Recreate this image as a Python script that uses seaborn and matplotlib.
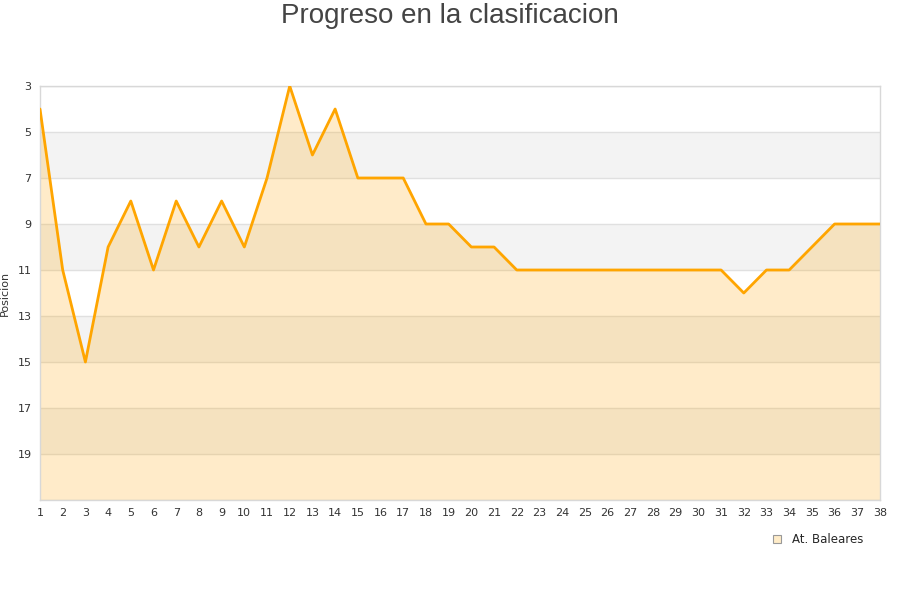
import matplotlib
matplotlib.use("Agg")
import matplotlib.pyplot as plt
import seaborn as sns
import pandas as pd
from matplotlib.patches import Patch

jornadas = list(range(1, 39))
posicion = [4, 11, 15, 10, 8, 11, 8, 10, 8, 10, 7, 3, 6, 4, 7, 7, 7, 9, 9, 10,
            10, 11, 11, 11, 11, 11, 11, 11, 11, 11, 11, 12, 11, 11, 10, 9, 9, 9]
equipo = "At. Baleares"
y_ticks = [3, 5, 7, 9, 11, 13, 15, 17, 19]

df = pd.DataFrame({"Jornada": jornadas, "Posicion": posicion})

sns.set_theme(style="white")
plt.rcParams['font.family'] = ['DejaVu Sans']

fig = plt.figure(figsize=(9, 6), dpi=100)
ax = fig.add_axes([40/900, 1-500/600, 840/900, 414/600])

# alternating bands
for lo in [5, 9, 13, 17]:
    ax.axhspan(lo, lo + 2, color="#f3f3f3", zorder=0, lw=0)

for t in y_ticks + [21]:
    ax.axhline(t, color="#e0e0e0", lw=1, zorder=0.5)

ax.fill_between(df["Jornada"], df["Posicion"], 21, color="#ffa500", alpha=0.21, lw=0, zorder=1)
sns.lineplot(data=df, x="Jornada", y="Posicion", ax=ax, color="#ffa500", lw=2.0, zorder=3)

ax.set_xlim(1, 38)
ax.set_ylim(21, 3)
ax.set_xticks(jornadas)
ax.set_yticks(y_ticks)
ax.tick_params(axis="both", labelsize=8, colors="#333333", length=0, pad=6)
ax.set_xlabel("")
ax.set_ylabel("Posicion", fontsize=8, color="#333333")
ax.yaxis.set_label_coords(-30/840, 0.5)
for s in ax.spines.values():
    s.set_color("#d8d8d8")
    s.set_linewidth(1)

fig.text(0.5, 1-16/600, "Progreso en la clasificacion", ha="center", va="center",
         fontsize=20, color="#444444", family=["Liberation Sans", "DejaVu Sans"])

leg = ax.legend(handles=[Patch(facecolor="#ffecc8", edgecolor="#999999", lw=0.8, label=equipo)],
                loc="upper right", bbox_to_anchor=(0.993, -0.055), frameon=False,
                fontsize=8.5, handlelength=0.7, handleheight=0.7, handletextpad=0.9)

fig.savefig("out.png", dpi=100)
